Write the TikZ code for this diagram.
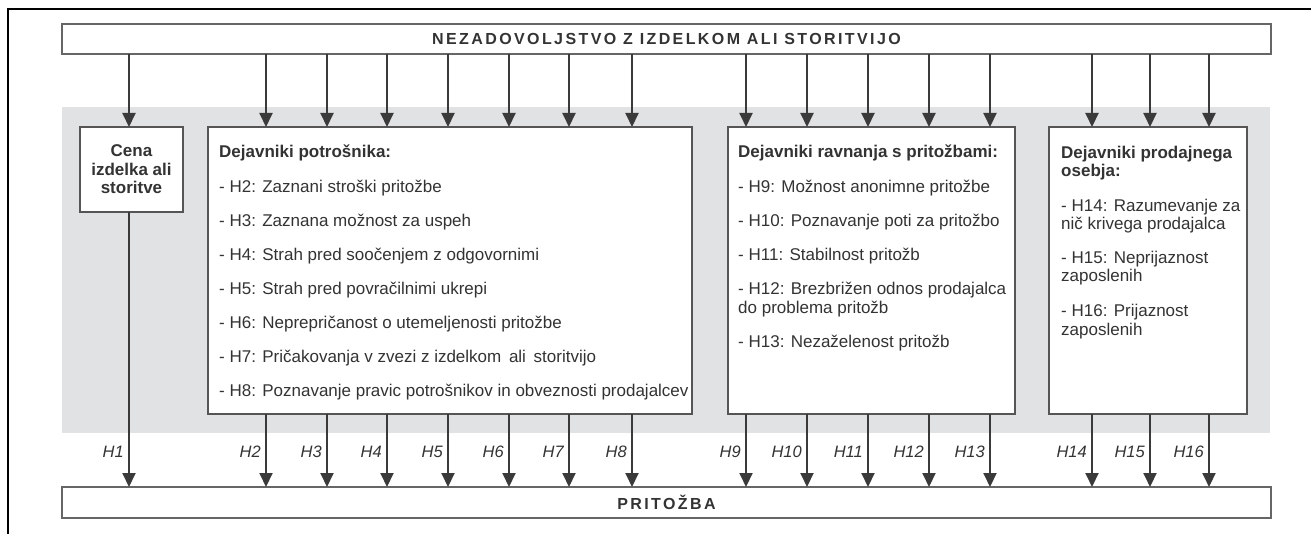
\documentclass[tikz,border=0pt]{standalone}
\usepackage{fontspec}
\setmainfont{Liberation Sans}
\newfontfamily\spacedfont[LetterSpace=15]{Liberation Sans}
\usetikzlibrary{arrows.meta}
\definecolor{txt}{HTML}{333333}
\definecolor{linec}{HTML}{3A3A3A}
\definecolor{boxline}{HTML}{555555}
\definecolor{barline}{HTML}{666666}
\definecolor{bggray}{HTML}{E1E2E4}
\begin{document}
\begin{tikzpicture}[x=1pt,y=-1pt,
  box/.style={draw=boxline, line width=1.3pt, fill=white, inner sep=0pt, outer sep=0pt},
  bar/.style={draw=barline, line width=1.2pt, fill=white, inner sep=0pt, outer sep=0pt, minimum width=1209pt, text=txt, font=\spacedfont\bfseries\fontsize{16}{18}\selectfont},
  arr/.style={draw=linec, line width=2pt, -{Triangle[width=13pt,length=14pt]}},
  item/.style={anchor=base west, inner sep=0pt, text=txt, font=\fontsize{17}{19}\selectfont},
  head/.style={anchor=base west, inner sep=0pt, text=txt, font=\fontsize{17}{19}\selectfont\bfseries},
  ctr/.style={anchor=base, inner sep=0pt, text=txt, font=\fontsize{17}{19}\selectfont\bfseries},
  hl/.style={anchor=east, inner sep=0pt, text=txt, font=\fontsize{16.5}{18}\selectfont\itshape}]
\useasboundingbox (0,0) rectangle (1311,534);
% outer frame
\draw[line width=2.5pt] (8,545) -- (8,9) -- (1320,9);
% gray zone
\node[fill=bggray, inner sep=0pt, minimum width=1208pt, minimum height=326pt] (zone) at (666,270) {};
% bars
\node[bar, minimum height=30pt] (top) at (666.5,39) {NEZADOVOLJSTVO Z IZDELKOM ALI STORITVIJO};
\node[bar, minimum height=31pt] (bottom) at (666.5,502.5) {PRITOŽBA};
% boxes
\node[box, minimum width=103pt, minimum height=85pt] (b1) at (131.5,169.5) {};
\node[box, minimum width=484pt, minimum height=287pt] (b2) at (450,270.5) {};
\node[box, minimum width=287pt, minimum height=287pt] (b3) at (871.5,270.5) {};
\node[box, minimum width=198pt, minimum height=287pt] (b4) at (1148,270.5) {};
% box 1 text
\node[ctr] (c1) at (131.5,157) {Cena};
\node[ctr] (c2) at (131.5,175.5) {izdelka ali};
\node[ctr] (c3) at (131.5,194) {storitve};
% box 2 text
\node[head] (p0) at (219,158) {Dejavniki potrošnika:};
\node[item] (p2) at (219,192.5) {- H2: Zaznani stroški pritožbe};
\node[item] (p3) at (219,226.5) {- H3: Zaznana možnost za uspeh};
\node[item] (p4) at (219,260.5) {- H4: Strah pred soočenjem z odgovornimi};
\node[item] (p5) at (219,294.5) {- H5: Strah pred povračilnimi ukrepi};
\node[item] (p6) at (219,328.5) {- H6: Neprepričanost o utemeljenosti pritožbe};
\node[item] (p7) at (219,362.5) {- H7: Pričakovanja v zvezi z izdelkom\hspace{7.7pt}ali\hspace{7.7pt}storitvijo};
\node[item] (p8) at (219,396.5) {- H8: Poznavanje pravic potrošnikov in obveznosti prodajalcev};
% box 3 text
\node[head] (r0) at (738,158) {Dejavniki ravnanja s pritožbami:};
\node[item] (r9) at (738,192.5) {- H9: Možnost anonimne pritožbe};
\node[item] (r10) at (738,227) {- H10: Poznavanje poti za pritožbo};
\node[item] (r11) at (738,261) {- H11: Stabilnost pritožb};
\node[item] (r12a) at (738,294.5) {- H12: Brezbrižen odnos prodajalca};
\node[item] (r12b) at (738,313.5) {do problema pritožb};
\node[item] (r13) at (738,348) {- H13: Nezaželenost pritožb};
% box 4 text
\node[head] (s0a) at (1061,158.5) {Dejavniki prodajnega};
\node[head] (s0b) at (1061,177) {osebja:};
\node[item] (s14a) at (1061,212) {- H14: Razumevanje za};
\node[item] (s14b) at (1061,230) {nič krivega prodajalca};
\node[item] (s15a) at (1061,264) {- H15: Neprijaznost};
\node[item] (s15b) at (1061,282) {zaposlenih};
\node[item] (s16a) at (1061,317) {- H16: Prijaznost};
\node[item] (s16b) at (1061,335) {zaposlenih};
% arrows
\foreach \x/\n/\b in {129/1/b1, 266/2/b2, 327/3/b2, 387/4/b2, 448/5/b2, 509/6/b2, 569/7/b2, 632/8/b2,
                      746/9/b3, 807/10/b3, 868/11/b3, 929/12/b3, 990/13/b3,
                      1092/14/b4, 1150/15/b4, 1209/16/b4}{
  \coordinate (x\n) at (\x,0);
  \draw[arr] (top.south -| x\n) -- (\b.north -| x\n);
  \draw[arr] (\b.south -| x\n) -- (bottom.north -| x\n);
  \node[hl] (h\n) at ({\x-5},452) {H\n};
}
\end{tikzpicture}
\end{document}
